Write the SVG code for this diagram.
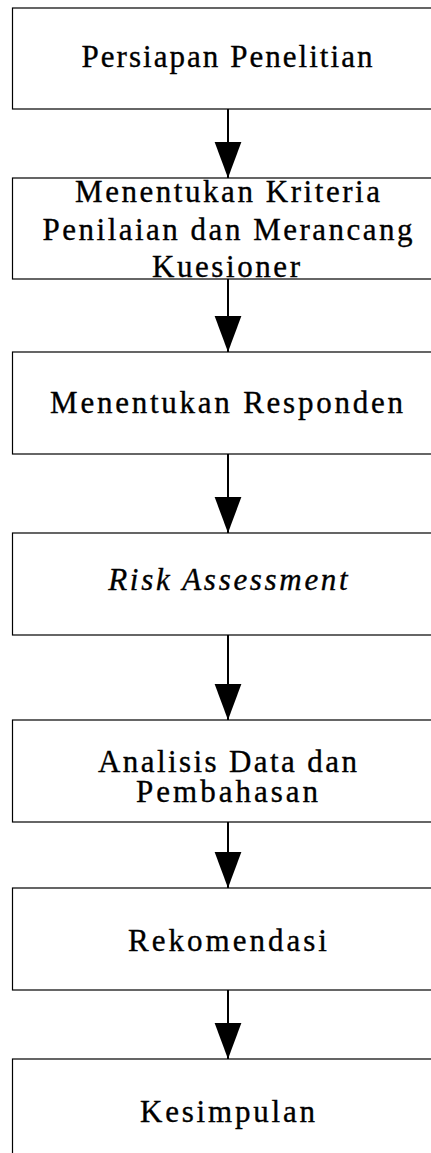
<svg xmlns="http://www.w3.org/2000/svg" width="431" height="1153" viewBox="0 0 431 1153">
<style>
.box{fill:#fff;stroke:#000;stroke-width:1.2}
.t{font-family:'Liberation Serif','Times New Roman',serif;font-size:31px;fill:#000;stroke:#000;stroke-width:0.35;text-anchor:middle}
.i{font-style:italic}
.c{stroke:#000;stroke-width:2;fill:none}
</style>
<defs>
<marker id="ah" markerUnits="userSpaceOnUse" markerWidth="36" markerHeight="28" refX="35" refY="13" orient="auto" viewBox="0 0 35 26">
<path d="M0,0 L35,13 L0,26 Z" fill="#000"/>
</marker>
</defs>
<g id="n1"><rect class="box" x="12.5" y="8" width="430" height="101"/><text class="t" x="228" y="67" letter-spacing="2.04">Persiapan Penelitian</text></g>
<g id="n2"><rect class="box" x="12.5" y="178" width="430" height="101"/>
<text class="t" x="228.8" y="202" letter-spacing="2.55">Menentukan Kriteria</text>
<text class="t" x="228.8" y="240" letter-spacing="2.5">Penilaian dan Merancang</text>
<text class="t" x="227.3" y="277" letter-spacing="2.57">Kuesioner</text></g>
<g id="n3"><rect class="box" x="12.5" y="352" width="430" height="102"/><text class="t" x="227.9" y="413" letter-spacing="2.76">Menentukan Responden</text></g>
<g id="n4"><rect class="box" x="12.5" y="533" width="430" height="102"/><text class="t i" x="229.3" y="590" letter-spacing="2.69">Risk Assessment</text></g>
<g id="n5"><rect class="box" x="12.5" y="720" width="430" height="102"/>
<text class="t" x="228.7" y="772" letter-spacing="2.41">Analisis Data dan</text>
<text class="t" x="228.5" y="802" letter-spacing="3.0">Pembahasan</text></g>
<g id="n6"><rect class="box" x="12.5" y="888" width="430" height="102"/><text class="t" x="229" y="951" letter-spacing="3.02">Rekomendasi</text></g>
<g id="n7"><rect class="box" x="12.5" y="1059" width="430" height="120"/><text class="t" x="228.9" y="1122" letter-spacing="2.8">Kesimpulan</text></g>
<g id="connectors">
<line class="c" x1="228" y1="109" x2="228" y2="178" marker-end="url(#ah)"/>
<line class="c" x1="228" y1="279" x2="228" y2="352" marker-end="url(#ah)"/>
<line class="c" x1="228" y1="454" x2="228" y2="533" marker-end="url(#ah)"/>
<line class="c" x1="228" y1="635" x2="228" y2="720" marker-end="url(#ah)"/>
<line class="c" x1="228" y1="822" x2="228" y2="888" marker-end="url(#ah)"/>
<line class="c" x1="228" y1="990" x2="228" y2="1059" marker-end="url(#ah)"/>
</g>
</svg>
